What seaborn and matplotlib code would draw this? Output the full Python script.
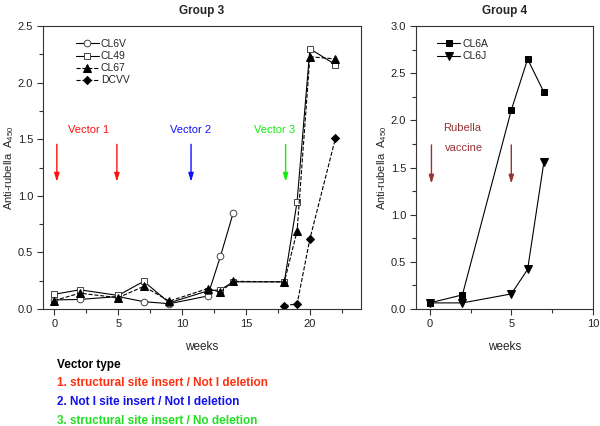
import matplotlib
matplotlib.use('Agg')
import matplotlib.pyplot as plt
import seaborn as sns

# Group 3 data (weeks, anti-rubella A450)
g3_weeks_cl6v = [0, 2, 5, 7, 9, 12, 13, 14]
g3_cl6v = [0.08, 0.085, 0.11, 0.065, 0.047, 0.115, 0.465, 0.85]
g3_weeks_cl49 = [0, 2, 5, 7, 9, 12, 13, 14, 18, 19, 20, 22]
g3_cl49 = [0.13, 0.17, 0.12, 0.245, 0.055, 0.16, 0.17, 0.24, 0.24, 0.95, 2.30, 2.16]
g3_weeks_cl67 = [0, 2, 5, 7, 9, 12, 13, 14, 18, 19, 20, 22]
g3_cl67 = [0.075, 0.14, 0.10, 0.20, 0.07, 0.18, 0.15, 0.245, 0.24, 0.69, 2.23, 2.21]
g3_weeks_dcvv = [18, 19, 20, 22]
g3_dcvv = [0.03, 0.045, 0.62, 1.51]

# Group 4 data
g4_weeks = [0, 2, 5, 6, 7]
g4_cl6a = [0.065, 0.15, 2.11, 2.65, 2.30]
g4_cl6j = [0.065, 0.065, 0.16, 0.42, 1.56]

# Injection arrows
vector_weeks = [0.2, 4.9, 10.7, 18.1]
vector_colors = ['#ff1010', '#ff1010', '#1010ff', '#10ee10']
vector_labels = ['Vector 1', 'Vector 2', 'Vector 3']
vector_label_x = [2.7, 10.7, 17.2]
vaccine_weeks = [0.1, 5.0]

legend_notes = ['1. structural site insert / Not I deletion',
                '2. Not I site insert / Not I deletion',
                '3. structural site insert / No deletion']
note_colors = ['#ff3010', '#1010ee', '#20e020']

sns.set_style('ticks')
plt.rcParams['font.family'] = ['Liberation Sans', 'DejaVu Sans']
plt.rcParams['mathtext.fontset'] = 'custom'
plt.rcParams['mathtext.rm'] = 'Liberation Sans'

fig = plt.figure(figsize=(6.0, 4.26), dpi=100)
ax1 = fig.add_axes([0.0717, 0.2746, 0.53, 0.664])
ax2 = fig.add_axes([0.693, 0.2746, 0.295, 0.664])

lw = 0.8
ms = 4.8
sns.lineplot(x=g3_weeks_cl6v, y=g3_cl6v, ax=ax1, color='black', lw=lw, marker='o',
             markersize=ms, markerfacecolor='white', markeredgecolor='#444444',
             markeredgewidth=0.7, label='CL6V')
sns.lineplot(x=g3_weeks_cl49, y=g3_cl49, ax=ax1, color='black', lw=lw, marker='s',
             markersize=ms, markerfacecolor='white', markeredgecolor='#444444',
             markeredgewidth=0.7, label='CL49')
sns.lineplot(x=g3_weeks_cl67, y=g3_cl67, ax=ax1, color='black', lw=lw, ls='--',
             marker='^', markersize=ms + 0.5, markeredgecolor='black', label='CL67')
sns.lineplot(x=g3_weeks_dcvv, y=g3_dcvv, ax=ax1, color='black', lw=lw, ls='--',
             marker='D', markersize=ms - 0.5, markeredgecolor='black', label='DCVV')

sns.lineplot(x=g4_weeks, y=g4_cl6a, ax=ax2, color='black', lw=lw, marker='s',
             markersize=ms, markeredgecolor='black', label='CL6A')
sns.lineplot(x=g4_weeks, y=g4_cl6j, ax=ax2, color='black', lw=lw, marker='v',
             markersize=ms + 0.5, markeredgecolor='black', label='CL6J')

for x, c in zip(vector_weeks, vector_colors):
    ax1.annotate('', xy=(x, 1.10), xytext=(x, 1.48),
                 arrowprops=dict(arrowstyle='-|>,head_width=0.15,head_length=0.5',
                                 color=c, lw=1.0))
for lab, x, c in zip(vector_labels, vector_label_x, ['#ff1010', '#1010ff', '#10ee10']):
    ax1.text(x, 1.58, lab, color=c, fontsize=8, ha='center', va='center')

for x in vaccine_weeks:
    ax2.annotate('', xy=(x, 1.30), xytext=(x, 1.77),
                 arrowprops=dict(arrowstyle='-|>,head_width=0.15,head_length=0.5',
                                 color='#993333', lw=1.0))
ax2.text(2.0, 1.92, 'Rubella', color='#993333', fontsize=8, ha='center', va='center')
ax2.text(2.1, 1.71, 'vaccine', color='#993333', fontsize=8, ha='center', va='center')

ax1.set_xlim(-0.88, 24)
ax1.set_ylim(0, 2.5)
ax1.set_xticks([0, 5, 10, 15, 20])
ax1.set_xticks([2.5, 7.5, 12.5, 17.5, 22.5], minor=True)
ax1.set_yticks([0, 0.5, 1.0, 1.5, 2.0, 2.5])
ax1.set_yticks([0.25, 0.75, 1.25, 1.75, 2.25], minor=True)

ax2.set_xlim(-0.86, 10)
ax2.set_ylim(0, 3.0)
ax2.set_xticks([0, 5, 10])
ax2.set_xticks([2.5, 7.5], minor=True)
ax2.set_yticks([0, 0.5, 1.0, 1.5, 2.0, 2.5, 3.0])
ax2.set_yticks([0.25, 0.75, 1.25, 1.75, 2.25, 2.75], minor=True)

for ax, title in [(ax1, 'Group 3'), (ax2, 'Group 4')]:
    ax.yaxis.set_major_formatter(matplotlib.ticker.FormatStrFormatter('%.1f'))
    ax.tick_params(which='major', length=4, width=0.8, labelsize=8, color='#333333',
                   labelcolor='#222222', pad=3)
    ax.tick_params(which='minor', length=3, width=0.8, color='#333333')
    for s in ax.spines.values():
        s.set_visible(True)
        s.set_linewidth(0.8)
        s.set_color('#333333')
    ax.set_title(title, fontsize=8.5, fontweight='bold', pad=9)
    ax.set_xlabel('weeks', fontsize=8.5, labelpad=9)
    ax.set_ylabel(r'Anti-rubella  A$_{450}$', fontsize=8, labelpad=1.5)
    ax.legend(loc='upper left', bbox_to_anchor=(0.08, 0.98), frameon=False,
              fontsize=7.5, handlelength=2.2, handletextpad=0.2, labelspacing=0.2,
              borderaxespad=0.3)

fig.text(0.095, 0.143, 'Vector type', fontsize=8.5, fontweight='bold', color='black',
         va='center')
for i, (note, c) in enumerate(zip(legend_notes, note_colors)):
    fig.text(0.095, 0.100 - i * 0.0445, note, fontsize=8.5, fontweight='bold',
             color=c, va='center')

fig.savefig('out.png', dpi=100)
